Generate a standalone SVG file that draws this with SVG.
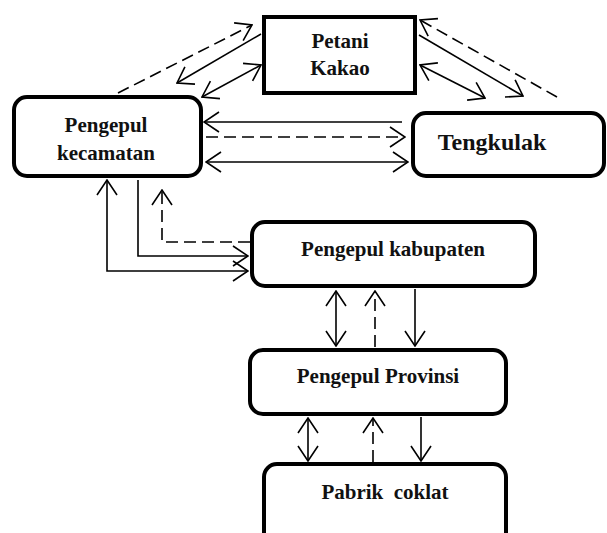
<svg xmlns="http://www.w3.org/2000/svg" width="607" height="533" viewBox="0 0 607 533">
<style>
.box{fill:#fff;stroke:#000;stroke-width:4}
.t{font-family:"Liberation Serif","Times New Roman",serif;font-weight:bold;font-size:21px;fill:#111;text-anchor:middle;white-space:pre}
.ln{fill:none;stroke:#000;stroke-width:1.6}
.d{stroke-dasharray:12 6}
.a1{marker-end:url(#ah)}
.a2{marker-start:url(#ah);marker-end:url(#ah)}
</style>
<defs>
<marker id="ah" markerUnits="userSpaceOnUse" markerWidth="18" markerHeight="24" viewBox="-2 -2 18 24" refX="15" refY="10" orient="auto-start-reverse">
<path d="M0,0 L15,10 L0,20" fill="none" stroke="#000" stroke-width="1.6"/>
</marker>
</defs>
<rect width="607" height="533" fill="#fff"/>
<g id="connectors">
<line class="ln d a1" x1="118" y1="93" x2="252" y2="25"/>
<line class="ln a1" x1="261" y1="34" x2="177" y2="83"/>
<line class="ln a2" x1="261" y1="65" x2="202" y2="97"/>
<line class="ln d a1" x1="557" y1="97" x2="420" y2="20"/>
<line class="ln a1" x1="419" y1="35" x2="523" y2="96"/>
<line class="ln a2" x1="420" y1="65" x2="485" y2="98"/>
<line class="ln a1" x1="402" y1="122" x2="204" y2="122"/>
<line class="ln d a1" x1="206" y1="137" x2="405" y2="137"/>
<line class="ln a2" x1="206" y1="162" x2="408" y2="162"/>
<polyline class="ln a2" points="107,180 107,271 248,271"/>
<polyline class="ln a1" points="138,180 138,256 248,256"/>
<polyline class="ln d a1" points="250,242 162,242 162,190"/>
<line class="ln a2" x1="336" y1="291" x2="336" y2="346"/>
<line class="ln d a1" x1="375" y1="347" x2="375" y2="291"/>
<line class="ln a1" x1="415" y1="289" x2="415" y2="346"/>
<line class="ln a2" x1="308" y1="418" x2="308" y2="461"/>
<line class="ln d a1" x1="373" y1="462" x2="373" y2="418"/>
<line class="ln a1" x1="421" y1="417" x2="421" y2="461"/>
</g>
<g id="petani">
<rect class="box" x="264" y="17" width="151" height="76"/>
<text class="t" x="340" y="48">Petani</text>
<text class="t" x="340" y="75">Kakao</text>
</g>
<g id="kecamatan">
<rect class="box" x="14" y="97" width="187" height="79" rx="13"/>
<text class="t" x="106" y="132">Pengepul</text>
<text class="t" x="106" y="160">kecamatan</text>
</g>
<g id="tengkulak">
<rect class="box" x="413" y="113" width="191" height="63" rx="13"/>
<text class="t" x="492" y="150" style="font-size:24px">Tengkulak</text>
</g>
<g id="kabupaten">
<rect class="box" x="252" y="222" width="283" height="64" rx="13"/>
<text class="t" x="393" y="256">Pengepul kabupaten</text>
</g>
<g id="provinsi">
<rect class="box" x="250" y="350" width="256" height="64" rx="13"/>
<text class="t" x="378" y="383">Pengepul Provinsi</text>
</g>
<g id="pabrik">
<rect class="box" x="264" y="464" width="242" height="82" rx="13"/>
<text class="t" x="385" y="499">Pabrik  coklat</text>
</g>
</svg>
